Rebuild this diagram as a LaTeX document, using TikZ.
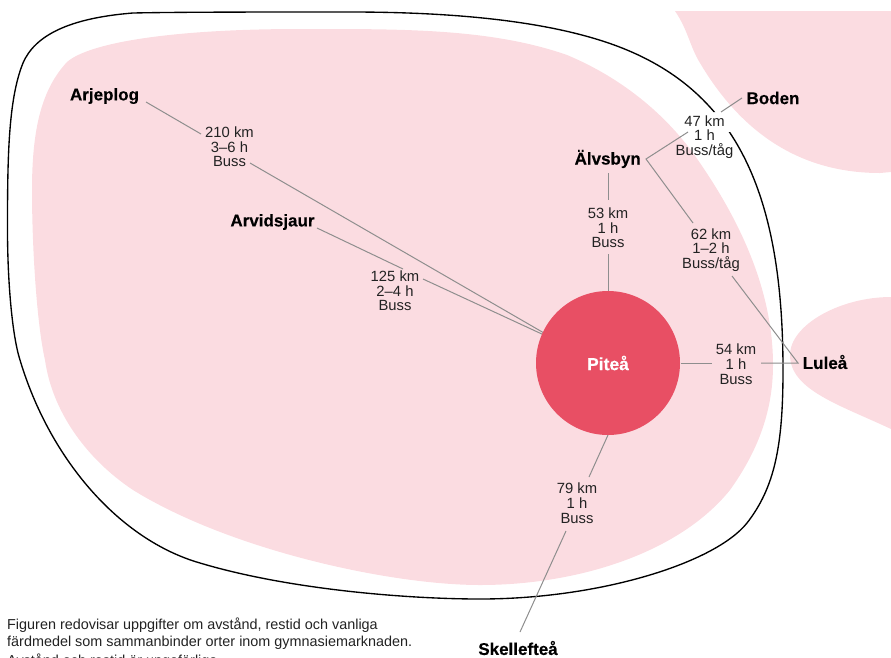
\documentclass[tikz,border=0pt]{standalone}
\usepackage{fontspec}
\setmainfont{Liberation Sans}[BoldFeatures={FakeBold=0.25}]
\definecolor{blobpink}{HTML}{FBDCE1}
\definecolor{cityred}{HTML}{E84F64}
\definecolor{linkgray}{HTML}{8E8E8E}
\definecolor{inktext}{HTML}{222222}
\tikzset{
  blob/.style={fill=blobpink,draw=none},
  edgeline/.style={draw=black,line width=1.35pt},
  link/.style={draw=linkgray,line width=1pt},
  info/.style={align=center,inner sep=0pt,text=inktext,font=\fontsize{14.8}{14.7}\selectfont},
  town/.style={inner sep=0pt,text=black,font=\fontsize{17}{18}\selectfont\bfseries},
  capt/.style={anchor=base west,inner sep=0pt,text=inktext,font=\fontsize{14.4}{16}\selectfont},
}
\begin{document}
\begin{tikzpicture}[x=1pt,y=-1pt]
\useasboundingbox (0,0) rectangle (891,657);
\begin{scope}
\clip (0,0) rectangle (891,657);
% Boden region
\fill[blob] (675,11) .. controls (688,30) and (690,47) .. (700,63)
  .. controls (735,122) and (790,173) .. (880,173) -- (891,172) -- (891,11) -- cycle;
% Luleå region
\fill[blob] (891,297) .. controls (840,297) and (790,325) .. (790,355)
  .. controls (790,390) and (840,405) .. (891,429) -- cycle;
% Inner region
\fill[blob] (300,29) .. controls (400,29) and (490,28) .. (567,55)
  .. controls (615,75) and (660,108) .. (693,153)
  .. controls (730,205) and (773,280) .. (773,365)
  .. controls (773,415) and (755,455) .. (730,490)
  .. controls (680,552) and (580,585) .. (480,585)
  .. controls (390,585) and (230,550) .. (133,490)
  .. controls (85,458) and (52,410) .. (45,360)
  .. controls (37,325) and (32,250) .. (32,190)
  .. controls (32,125) and (43,88) .. (67,62)
  .. controls (90,42) and (175,29) .. (300,29) -- cycle;
% Outer border, broken at the Boden label
\begin{scope}[even odd rule]
\clip (0,0) rectangle (891,657) (700,112) rectangle (742,132);
\draw[edgeline] (350,12) .. controls (460,12) and (560,22) .. (627,50)
  .. controls (740,97) and (783,200) .. (783,370)
  .. controls (783,445) and (775,487) .. (747,523)
  .. controls (715,563) and (600,599) .. (480,599)
  .. controls (410,599) and (290,590) .. (200,563)
  .. controls (120,540) and (50,460) .. (20,360)
  .. controls (12,335) and (7.5,280) .. (7.5,230)
  .. controls (7.5,160) and (8,100) .. (23,63)
  .. controls (35,35) and (70,18) .. (133,13)
  .. controls (180,12) and (260,12) .. (350,12) -- cycle;
\end{scope}
% Named ends of connectors
\coordinate (arjA) at (146,102);
\coordinate (arjB) at (201,134);
\coordinate (arjC) at (250,163);
\coordinate (arjD) at (544,333);
\coordinate (arvA) at (317,228);
\coordinate (arvB) at (403,269);
\coordinate (arvC) at (423,279);
\coordinate (arvD) at (544,335);
\coordinate (alvA) at (608,173);
\coordinate (alvB) at (608,200);
\coordinate (alvC) at (608,254);
\coordinate (alvD) at (608,291);
\coordinate (fork) at (646,159);
\coordinate (bodA) at (742,98);
\coordinate (bodB) at (721,112);
\coordinate (bodC) at (688,132);
\coordinate (lulA) at (693,223);
\coordinate (lulB) at (732,276);
\coordinate (lulE) at (798,363);
\coordinate (pitA) at (681,363);
\coordinate (pitB) at (712,363);
\coordinate (pitC) at (761,363);
\coordinate (skeA) at (608,435);
\coordinate (skeB) at (589,477);
\coordinate (skeC) at (566,531);
\coordinate (skeD) at (520,632);
% Connectors
\draw[link] (arjA) -- (arjB);
\draw[link] (arjC) -- (arjD);
\draw[link] (arvA) -- (arvB);
\draw[link] (arvC) -- (arvD);
\draw[link] (alvA) -- (alvB);
\draw[link] (alvC) -- (alvD);
\draw[link] (bodA) -- (bodB);
\draw[link] (bodC) -- (fork) -- (lulA);
\draw[link] (lulB) -- (lulE) -- (pitC);
\draw[link] (pitA) -- (pitB);
\draw[link] (skeA) -- (skeB);
\draw[link] (skeC) -- (skeD);
% Piteå
\node[circle,fill=cityred,minimum size=144pt,inner sep=0pt,text=white,font=\fontsize{17.5}{18}\selectfont\bfseries] (pitea) at (608,363) {Piteå};
% Towns
\node[town] (arjeplog) at (104.5,96) {Arjeplog};
\node[town] (arvidsjaur) at (272.5,222) {Arvidsjaur};
\node[town] (alvsbyn) at (607.7,159) {Älvsbyn};
\node[town] (boden) at (773,98) {Boden};
\node[town] (lulea) at (825,362) {Luleå};
\node[town] (skelleftea) at (518,648) {Skellefteå};
% Distance labels
\node[info] (i1) at (229.5,147) {210 km\\3–6 h\\Buss};
\node[info] (i2) at (395,291) {125 km\\2–4 h\\Buss};
\node[info] (i3) at (608,228) {53 km\\1 h\\Buss};
\node[info] (i4) at (704.5,137) {47 km\\1 h\\Buss/tåg};
\node[info] (i5) at (711,250) {62 km\\1–2 h\\Buss/tåg};
\node[info] (i6) at (736,364) {54 km\\1 h\\Buss};
\node[info] (i7) at (577,503) {79 km\\1 h\\Buss};
% Caption
\node[capt] (c1) at (7,629) {Figuren redovisar uppgifter om avstånd, restid och vanliga};
\node[capt] (c2) at (7,646) {färdmedel som sammanbinder orter inom gymnasiemarknaden.};
\node[capt] (c3) at (7,665) {Avstånd och restid är ungefärliga};
\end{scope}
\end{tikzpicture}
\end{document}
